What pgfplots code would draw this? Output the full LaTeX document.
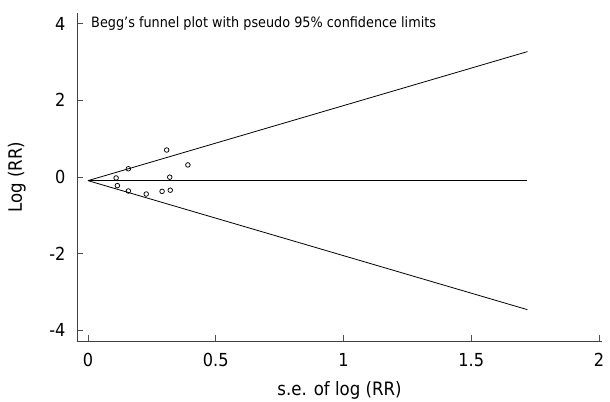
\documentclass[border=0pt]{standalone}
\usepackage{fontspec}
% Tahoma-like: DejaVu Sans narrowed
\setmainfont{DejaVu Sans}[FakeStretch=0.9]
\usepackage{pgfplots}
\pgfplotsset{compat=1.18}

\begin{document}
\begin{tikzpicture}[x=1bp,y=1bp]
% invisible frame to fix the picture size to the reference's 610x401
\path[use as bounding box] (-77,-60) rectangle (533,341);
\begin{axis}[
    at={(0,0)}, anchor=south west,
    scale only axis,
    width=525bp, height=328bp,
    xmin=-0.043, xmax=2.012,
    ymin=-4.29, ymax=4.28,
    axis x line*=bottom, axis y line*=left,
    axis line style={line width=0.9bp, black!75},
    xtick={0,0.5,1,1.5,2}, xticklabels={0,0.5,1,1.5,2},
    ytick={-4,-2,0,2,4},
    tick align=inside,
    major tick length=6bp,
    tick style={line width=0.6bp, black!70},
    ticklabel style={font=\fontsize{18}{20}\selectfont},
    xticklabel style={yshift=-9bp},
    yticklabel style={xshift=-8bp},
    /pgf/number format/assume math mode=true,
    xlabel={s.e. of log (RR)},
    ylabel={Log (RR)},
    label style={font=\fontsize{18.5}{20}\selectfont},
    xlabel style={at={(axis description cs:0.5,-0.165)}, anchor=base},
    ylabel style={at={(axis description cs:-0.105,0.5)}, anchor=base},
    clip=false,
]
% pseudo 95% confidence limits and pooled estimate
\addplot[black, line width=0.8bp, no marks] coordinates {(0,-0.1) (1.72,3.271)};
\addplot[black, line width=0.8bp, no marks] coordinates {(0,-0.1) (1.72,-3.471)};
\addplot[black, line width=0.8bp, no marks] coordinates {(0,-0.1) (1.72,-0.1)};
% studies
\addplot[only marks, mark=o, mark size=2.3bp, mark options={line width=0.75bp, black}] coordinates {
  (0.308,0.70) (0.158,0.21) (0.391,0.31) (0.110,-0.03) (0.320,-0.01)
  (0.115,-0.23) (0.158,-0.37) (0.228,-0.45) (0.290,-0.38) (0.322,-0.35)
};
\node[anchor=west, inner sep=0pt, font=\fontsize{14.3}{16}\selectfont] at (axis cs:0.012,4) {Begg’s funnel plot with pseudo 95\% confidence limits};
\end{axis}
\end{tikzpicture}
\end{document}
